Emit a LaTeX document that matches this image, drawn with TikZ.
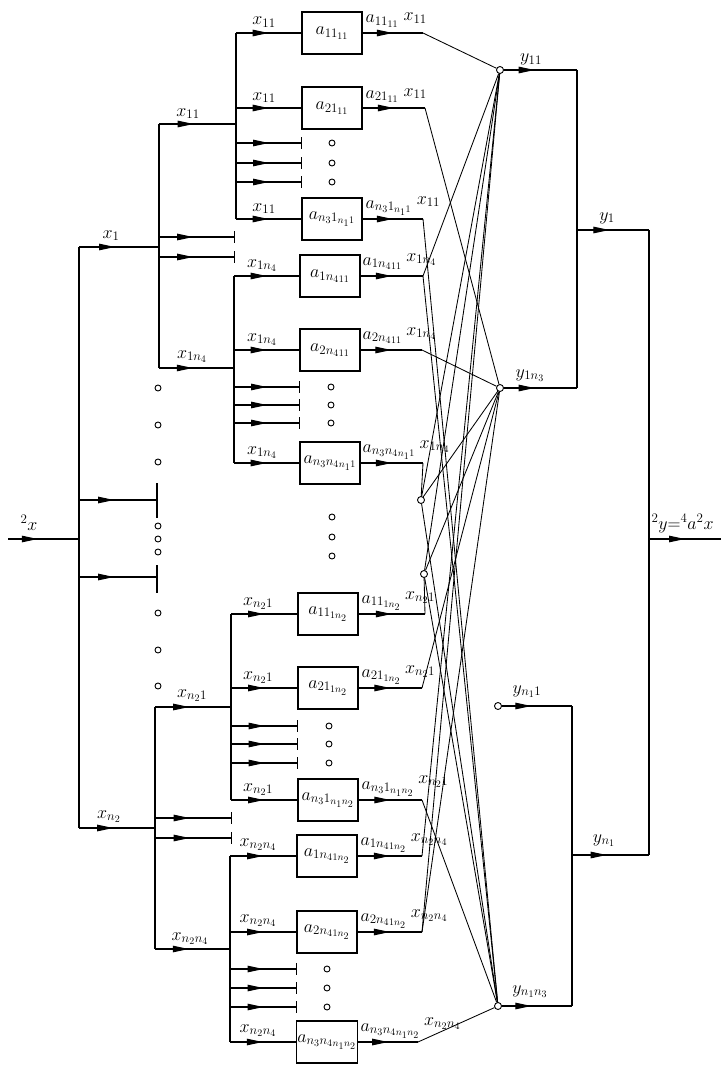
\RequirePackage{fix-cm}
\documentclass[tikz,border=0pt]{standalone}
\usetikzlibrary{arrows.meta,decorations.markings}
\DeclareMathSizes{18}{18}{13}{10}
\begin{document}
\begin{tikzpicture}[x=1pt,y=-1pt,line width=1.05pt,
  font=\fontsize{18}{21}\selectfont,
  box/.style={draw,line width=1.5pt,minimum width=60pt,minimum height=42pt,inner sep=1pt},
  sum/.style={circle,draw,fill=white,line width=0.9pt,minimum size=7pt,inner sep=0pt},
  dot/.style={circle,draw,line width=0.9pt,minimum size=6pt,inner sep=0pt},
  ar/.style={decoration={markings,mark=at position #1 with {\arrow{Triangle[length=16pt,width=6.5pt]}}},postaction={decorate}},
  ar/.default=0.5,
  stub/.style={-{Bar[width=12pt]}},
  cross/.style={line width=0.85pt},
  lab/.style={anchor=base,inner sep=0pt},
  olab/.style={anchor=base west,inner sep=0pt}]
\useasboundingbox (0,0) rectangle (721,1065);

% ---------- blocks ----------
\node[box] (b1) at (332,33) {$a_{11_{11}}$};
\node[box] (b2) at (332,108) {$a_{21_{11}}$};
\node[box] (b3) at (332,219) {$a_{n_31_{n_11}}$};
\node[box] (b4) at (330,276) {$a_{1n_4{}_{11}}$};
\node[box] (b5) at (330,350) {$a_{2n_4{}_{11}}$};
\node[box] (b6) at (330,463) {$a_{n_3n_4{}_{n_11}}$};
\node[box] (b7) at (328,614) {$a_{11_{1n_2}}$};
\node[box] (b8) at (328,688) {$a_{21_{1n_2}}$};
\node[box] (b9) at (328,800) {$a_{n_31_{n_1n_2}}$};
\node[box] (b10) at (327,856) {$a_{1n_4{}_{1n_2}}$};
\node[box] (b11) at (327,932) {$a_{2n_4{}_{1n_2}}$};
\node[box] (b12) at (327,1042) {$a_{n_3n_4{}_{n_1n_2}}$};

% ---------- level 1 ----------
\coordinate (IN) at (8,539);
\coordinate (T0) at (79,539);
\coordinate (T1) at (79,247);
\coordinate (T2) at (79,828);
\coordinate (Ts1) at (79,500);
\coordinate (Ts2) at (79,577);
\coordinate (Te1) at (157,500);
\coordinate (Te2) at (157,577);
\coordinate (Q1) at (159,247);
\coordinate (Q2) at (155,828);
\draw[ar=0.42] (IN) -- (T0);
\draw (T1) -- (T2);
\draw[ar=0.45] (T1) -- (Q1);
\draw[ar=0.45] (Ts1) -- (Te1);
\draw[ar=0.45] (Ts2) -- (Te2);
\draw[ar=0.45] (T2) -- (Q2);
\coordinate (K1) at (157,483); \coordinate (K2) at (157,518);
\coordinate (K3) at (157,565); \coordinate (K4) at (157,593);
\draw (K1) -- (K2); \draw (K3) -- (K4);
\foreach \yy [count=\i] in {388,425,462,526,539,552,613,650,686}
  \node[dot] (ld\i) at (158,\yy) {};

% ---------- level 2 (x1) ----------
\coordinate (P1) at (159,124); \coordinate (P2) at (159,368);
\draw (P1) -- (P2);
\coordinate (A0) at (236,124);
\draw[ar=0.45] (P1) -- (A0);
\foreach \yy [count=\i] in {237,257}{
  \coordinate (ps\i) at (159,\yy); \coordinate (pe\i) at (235,\yy);
  \draw[ar=0.45,stub] (ps\i) -- (pe\i);}
\coordinate (H0) at (234,368);
\draw[ar=0.45] (P2) -- (H0);

% ---------- level 2 (xn2) ----------
\coordinate (R1) at (155,707); \coordinate (R2) at (155,949);
\draw (R1) -- (R2);
\coordinate (C0) at (231,707);
\draw[ar=0.45] (R1) -- (C0);
\foreach \yy [count=\i] in {818,838}{
  \coordinate (rs\i) at (155,\yy); \coordinate (re\i) at (232,\yy);
  \draw[ar=0.45,stub] (rs\i) -- (re\i);}
\coordinate (D0) at (230,949);
\draw[ar=0.45] (R2) -- (D0);

% ---------- level 3 groups ----------
\coordinate (A1) at (236,33); \coordinate (A2) at (236,108); \coordinate (A3) at (236,219);
\draw (A1) -- (A3);
\draw[ar] (A1) -- (b1.west); \draw[ar] (A2) -- (b2.west); \draw[ar] (A3) -- (b3.west);
\foreach \yy [count=\i] in {143,163,182}{
  \coordinate (as\i) at (236,\yy); \coordinate (ae\i) at (302,\yy);
  \draw[ar,stub] (as\i) -- (ae\i); \node[dot] (ad\i) at (332,\yy) {};}

\coordinate (H1) at (234,276); \coordinate (H2) at (234,350); \coordinate (H3) at (234,463);
\draw (H1) -- (H3);
\draw[ar] (H1) -- (b4.west); \draw[ar] (H2) -- (b5.west); \draw[ar] (H3) -- (b6.west);
\foreach \yy [count=\i] in {387,405,423}{
  \coordinate (hs\i) at (234,\yy); \coordinate (he\i) at (300,\yy);
  \draw[ar,stub] (hs\i) -- (he\i); \node[dot] (hd\i) at (331,\yy) {};}

\coordinate (C1) at (231,614); \coordinate (C2) at (231,688); \coordinate (C3) at (231,800);
\draw (C1) -- (C3);
\draw[ar] (C1) -- (b7.west); \draw[ar] (C2) -- (b8.west); \draw[ar] (C3) -- (b9.west);
\foreach \yy [count=\i] in {726,744,763}{
  \coordinate (cs\i) at (231,\yy); \coordinate (ce\i) at (298,\yy);
  \draw[ar,stub] (cs\i) -- (ce\i); \node[dot] (cd\i) at (329,\yy) {};}

\coordinate (D1) at (230,856); \coordinate (D2) at (230,932); \coordinate (D3) at (230,1042);
\draw (D1) -- (D3);
\draw[ar] (D1) -- (b10.west); \draw[ar] (D2) -- (b11.west); \draw[ar] (D3) -- (b12.west);
\foreach \yy [count=\i] in {969,988,1007}{
  \coordinate (ds\i) at (230,\yy); \coordinate (de\i) at (297,\yy);
  \draw[ar,stub] (ds\i) -- (de\i); \node[dot] (dd\i) at (327,\yy) {};}

\foreach \yy [count=\i] in {517,537,556} \node[dot] (md\i) at (332,\yy) {};

% ---------- block outputs ----------
\coordinate (E1) at (423,33);  \coordinate (E2) at (425,108); \coordinate (E3) at (423,219);
\coordinate (E4) at (423,276); \coordinate (E5) at (422,350); \coordinate (E6) at (423,463);
\coordinate (E7) at (425,614); \coordinate (E8) at (422,688); \coordinate (E9) at (422,800);
\coordinate (E10) at (422,856); \coordinate (E11) at (422,932); \coordinate (E12) at (418,1042);
\foreach \i in {1,...,12} \draw[ar] (b\i.east) -- (E\i);

% ---------- summing points ----------
\node[sum] (y11) at (500,70) {};
\node[sum] (y1n3) at (500,388) {};
\node[sum] (yn11) at (498,706) {};
\node[sum] (yn1n3) at (498,1006) {};
\node[sum] (c0) at (421,500) {};
\node[sum] (c1) at (424,574) {};

\draw[cross] (E1) -- (y11);
\draw[cross] (E4) -- (y11);
\draw[cross] (c1) -- (y11);
\draw[cross] (c0) -- (y11);
\draw[cross] (E10) -- (y11);
\draw[cross] (E11) -- (y11);
\draw[cross] (E2) -- (y1n3);
\draw[cross] (E5) -- (y1n3);
\draw[cross] (c0) -- (y1n3);
\draw[cross] (c1) -- (y1n3);
\draw[cross] (E8) -- (y1n3);
\draw[cross] (E11) -- (y1n3);
\draw[cross] (E3) -- (yn1n3);
\draw[cross] (E4) -- (yn1n3);
\draw[cross] (E6) -- (c0);
\draw[cross] (c0) -- (yn1n3);
\draw[cross] (c1) -- (yn1n3);
\draw[cross] (E9) -- (yn1n3);
\draw[cross] (E12) -- (yn1n3);
\draw[cross] (E7) -- (c1);

% ---------- output tree ----------
\coordinate (S1) at (577,70);  \coordinate (S2) at (577,388);
\coordinate (S3) at (572,706); \coordinate (S4) at (572,1006);
\coordinate (U1) at (577,230); \coordinate (U2) at (649,230);
\coordinate (U3) at (572,855); \coordinate (U4) at (649,855);
\coordinate (O1) at (649,539); \coordinate (O2) at (721,539);
\draw[ar=0.42] (y11) -- (S1);
\draw[ar=0.42] (y1n3) -- (S2);
\draw[ar=0.42] (yn11) -- (S3);
\draw[ar=0.42] (yn1n3) -- (S4);
\draw (S1) -- (S2);
\draw (S3) -- (S4);
\draw[ar=0.45] (U1) -- (U2);
\draw[ar=0.45] (U3) -- (U4);
\draw (U2) -- (U4);
\draw[ar=0.5] (O1) -- (O2);

% ---------- labels ----------
\node[lab] (lin) at (29,530) {${}^2x$};
\node[lab] (lx1) at (111,238) {$x_1$};
\node[lab] (lxn2) at (109,818) {$x_{n_2}$};
\node[lab] (lx11a) at (188,116) {$x_{11}$};
\node[lab] (lx1n4a) at (192,358) {$x_{1n_4}$};
\node[lab] (lxn21a) at (192,697) {$x_{n_21}$};
\node[lab] (lxn2n4a) at (190,940) {$x_{n_2n_4}$};

\node[lab] (li1) at (264,25) {$x_{11}$};
\node[lab] (li2) at (264,100) {$x_{11}$};
\node[lab] (li3) at (264,211) {$x_{11}$};
\node[lab] (li4) at (262,267) {$x_{1n_4}$};
\node[lab] (li5) at (262,341) {$x_{1n_4}$};
\node[lab] (li6) at (262,454) {$x_{1n_4}$};
\node[lab] (li7) at (258,605) {$x_{n_21}$};
\node[lab] (li8) at (258,679) {$x_{n_21}$};
\node[lab] (li9) at (258,791) {$x_{n_21}$};
\node[lab] (li10) at (258,846) {$x_{n_2n_4}$};
\node[lab] (li11) at (258,922) {$x_{n_2n_4}$};
\node[lab] (li12) at (258,1032) {$x_{n_2n_4}$};

\node[olab] (la1) at (365,23) {$a_{11_{11}}$};
\node[olab] (la2) at (365,98) {$a_{21_{11}}$};
\node[olab] (la3) at (365,208) {$a_{n_31_{n_11}}$};
\node[olab] (la4) at (362,265) {$a_{1n_4{}_{11}}$};
\node[olab] (la5) at (362,339) {$a_{2n_4{}_{11}}$};
\node[olab] (la6) at (362,452) {$a_{n_3n_4{}_{n_11}}$};
\node[olab] (la7) at (361,603) {$a_{11_{1n_2}}$};
\node[olab] (la8) at (361,677) {$a_{21_{1n_2}}$};
\node[olab] (la9) at (361,789) {$a_{n_31_{n_1n_2}}$};
\node[olab] (la10) at (360,845) {$a_{1n_4{}_{1n_2}}$};
\node[olab] (la11) at (360,921) {$a_{2n_4{}_{1n_2}}$};
\node[olab] (la12) at (360,1031) {$a_{n_3n_4{}_{n_1n_2}}$};
\node[olab] (lo1) at ([xshift=4pt,yshift=2pt]la1.base east) {$x_{11}$};
\node[olab] (lo2) at ([xshift=4pt,yshift=2pt]la2.base east) {$x_{11}$};
\node[olab] (lo3) at ([xshift=4pt,yshift=4pt]la3.base east) {$x_{11}$};
\node[olab] (lo4) at ([xshift=3pt,yshift=4pt]la4.base east) {$x_{1n_4}$};
\node[olab] (lo5) at ([xshift=3pt,yshift=4pt]la5.base east) {$x_{1n_4}$};
\node[olab] (lo6) at ([xshift=3pt,yshift=4pt]la6.base east) {$x_{1n_4}$};
\node[olab] (lo7) at ([xshift=3pt,yshift=4pt]la7.base east) {$x_{n_21}$};
\node[olab] (lo8) at ([xshift=3pt,yshift=4pt]la8.base east) {$x_{n_21}$};
\node[olab] (lo9) at ([xshift=3pt,yshift=6pt]la9.base east) {$x_{n_21}$};
\node[olab] (lo10) at ([xshift=3pt,yshift=4pt]la10.base east) {$x_{n_2n_4}$};
\node[olab] (lo11) at ([xshift=3pt,yshift=4pt]la11.base east) {$x_{n_2n_4}$};
\node[olab] (lo12) at ([xshift=3pt,yshift=6pt]la12.base east) {$x_{n_2n_4}$};

\node[lab] (ly11) at (531,62) {$y_{11}$};
\node[lab] (ly1n3) at (530,377) {$y_{1n_3}$};
\node[lab] (ly1) at (607,220) {$y_1$};
\node[lab] (lyn11) at (527,693) {$y_{n_11}$};
\node[lab] (lyn1) at (604,842) {$y_{n_1}$};
\node[lab] (lyn1n3) at (530,993) {$y_{n_1n_3}$};
\node[olab] (lout) at (651,529) {${}^2y{=}{}^4a{}^2x$};
\end{tikzpicture}
\end{document}
